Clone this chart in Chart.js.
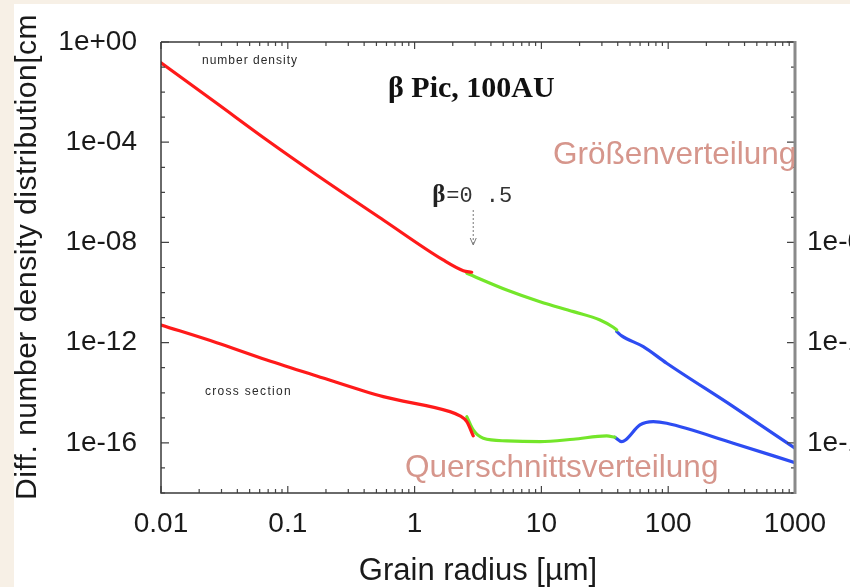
<!DOCTYPE html>
<html><head><meta charset="utf-8">
<script src="https://cdn.jsdelivr.net/npm/chart.js@4.4.0/dist/chart.umd.min.js"></script>
<style>
html,body{margin:0;padding:0;overflow:hidden;background:#f7f0e6;}
#wrap{position:relative;width:900px;height:587px;}
</style></head><body>
<div id="wrap"><canvas id="c"></canvas></div>
<script>
// ---- axis ticks ----
const xTickValues = [0.01, 0.1, 1, 10, 100, 1000];
const xTickLabels = ['0.01', '0.1', '1', '10', '100', '1000'];
const yTickValues = [1, 1e-4, 1e-8, 1e-12, 1e-16];
const yTickLabels = ['1e+00', '1e-04', '1e-08', '1e-12', '1e-16'];
const yRightTickValues = [1e-8, 1e-12, 1e-16];
const yRightTickLabels = ['1e-08', '1e-12', '1e-16'];

// ---- number density (size distribution) ----
const ndRedR   = [0.01, 0.0275, 0.0683, 0.169, 0.566, 1.68, 2.42, 2.82];
const ndRedN   = [1.49e-1, 3.58e-3, 1.23e-4, 4.93e-6, 7.89e-8, 2.0e-9, 7.48e-10, 6.46e-10];
const ndGreenR = [2.58, 5.33, 9.75, 17.9, 29.0, 36.9, 39.3];
const ndGreenN = [5.9e-10, 1.27e-10, 4.33e-11, 1.73e-11, 8.07e-12, 4.12e-12, 3.22e-12];
const ndBlueR  = [39.3, 43.0, 63.6, 97.3, 326, 1000];
const ndBlueN  = [2.75e-12, 1.86e-12, 6.94e-13, 1.51e-13, 2.8e-15, 6.12e-17];

// ---- cross section ----
const csRedR   = [0.01, 0.0275, 0.0683, 0.169, 0.566, 1.90, 2.28, 2.58, 2.90];
const csRedN   = [5.09e-12, 1.0e-12, 2.04e-13, 4.7e-14, 7.0e-15, 1.77e-15, 1.19e-15, 7.05e-16, 1.9e-16];
const csGreenR = [2.58, 2.90, 3.48, 5.33, 9.75, 17.9, 32.7, 38.0];
const csGreenN = [1.12e-15, 3.29e-16, 1.53e-16, 1.2e-16, 1.12e-16, 1.4e-16, 1.9e-16, 1.68e-16];
const csBlueR  = [38.0, 43.0, 46.0, 59.9, 76.3, 97.3, 326, 1000];
const csBlueN  = [1.68e-16, 1.12e-16, 1.3e-16, 5.2e-16, 7.05e-16, 6.08e-16, 9.7e-17, 1.63e-17];

const betaRadius = 2.9;

const RED = '#ff1a1a', GREEN = '#74e62a', BLUE = '#2d4cf2';
const pts = (r, v) => r.map((x, i) => ({x: x, y: v[i]}));
const ds = (r, v, c) => ({data: pts(r, v), borderColor: c, backgroundColor: c, borderWidth: 3.2,
  pointRadius: 0, fill: false, cubicInterpolationMode: 'monotone', borderCapStyle: 'round', borderJoinStyle: 'round'});

const SANS = '"Liberation Sans", Arial, sans-serif';

const bgPlugin = {
  id: 'bg',
  beforeDraw(chart) {
    const ctx = chart.ctx;
    ctx.save();
    ctx.fillStyle = '#f7f0e6';
    ctx.fillRect(0, 0, chart.width, chart.height);
    ctx.fillStyle = '#ffffff';
    ctx.fillRect(14, 4, chart.width - 14, chart.height - 4);
    ctx.restore();
  }
};

const framePlugin = {
  id: 'frame',
  afterDraw(chart) {
    const ctx = chart.ctx, a = chart.chartArea;
    const xs = chart.scales.x, ys = chart.scales.y;
    ctx.save();
    // ticks (inward)
    ctx.strokeStyle = '#444';
    ctx.lineWidth = 1.2;
    ctx.beginPath();
    for (let d = -2; d <= 3; d++) {
      for (let m = 1; m <= 9; m++) {
        const v = m * Math.pow(10, d);
        if (v > 1000 * 1.0001) continue;
        const px = xs.getPixelForValue(v);
        const len = m === 1 ? 7 : 4;
        ctx.moveTo(px, a.bottom); ctx.lineTo(px, a.bottom - len);
        ctx.moveTo(px, a.top); ctx.lineTo(px, a.top + len);
      }
    }
    for (let d = -18; d <= 0; d++) {
      const v = Math.pow(10, d);
      const py = ys.getPixelForValue(v);
      const len = (d % 4 === 0) ? 8 : 4;
      ctx.moveTo(a.left, py); ctx.lineTo(a.left + len, py);
      ctx.moveTo(a.right, py); ctx.lineTo(a.right - len, py);
    }
    ctx.stroke();
    // frame
    ctx.lineWidth = 1.5;
    ctx.strokeStyle = '#3a3a3a';
    ctx.beginPath();
    ctx.moveTo(a.left, a.top); ctx.lineTo(a.left, a.bottom); ctx.lineTo(a.right, a.bottom);
    ctx.moveTo(a.left, a.top); ctx.lineTo(a.right, a.top);
    ctx.stroke();
    ctx.lineWidth = 3;
    ctx.strokeStyle = '#8a8a8a';
    ctx.beginPath();
    ctx.moveTo(a.right, a.top - 1); ctx.lineTo(a.right, a.bottom + 1);
    ctx.stroke();

    // y axis title
    ctx.fillStyle = '#1a1a1a';
    ctx.font = '30px ' + SANS;
    ctx.letterSpacing = '0.5px';
    ctx.translate(36, 500);
    ctx.rotate(-Math.PI / 2);
    ctx.textAlign = 'left';
    ctx.textBaseline = 'alphabetic';
    ctx.fillText('Diff. number density distribution[cm', 0, 0);
    ctx.restore();

    // annotations
    ctx.save();
    ctx.textAlign = 'left';
    ctx.textBaseline = 'middle';
    ctx.fillStyle = '#2a2a2a';
    ctx.font = '12px ' + SANS;
    ctx.letterSpacing = '1px';
    ctx.fillText('number density', 202, 61);
    ctx.letterSpacing = '1.3px';
    ctx.fillText('cross section', 205, 392);
    ctx.letterSpacing = '0px';

    ctx.textBaseline = 'alphabetic';
    ctx.fillStyle = '#111';
    ctx.font = 'bold 30px "Liberation Serif", "Times New Roman", serif';
    ctx.fillText('\u03B2 Pic, 100AU', 388, 97);

    // beta = 0.5 label
    const bx = xs.getPixelForValue(betaRadius);
    ctx.font = 'bold 25px "Liberation Serif", serif';
    ctx.fillStyle = '#222';
    ctx.fillText('\u03B2', bx - 41, 202);
    ctx.font = '22px "Liberation Mono", "DejaVu Sans Mono", monospace';
    ctx.fillStyle = '#333';
    ctx.fillText('=0 .5', bx - 27, 202);
    // dotted arrow
    ctx.strokeStyle = '#777';
    ctx.lineWidth = 1;
    ctx.setLineDash([2, 2]);
    ctx.beginPath();
    ctx.moveTo(bx, 210); ctx.lineTo(bx, 244);
    ctx.stroke();
    ctx.setLineDash([]);
    ctx.beginPath();
    ctx.moveTo(bx - 3, 238); ctx.lineTo(bx, 245); ctx.lineTo(bx + 3, 238);
    ctx.stroke();

    // overlay German labels
    ctx.fillStyle = '#d6968c';
    ctx.font = '31.5px ' + SANS;
    ctx.fillText('Gr\u00F6\u00DFenverteilung', 553, 164);
    ctx.fillText('Querschnittsverteilung', 405, 477);
    ctx.restore();
  }
};

new Chart(document.getElementById('c'), {
  type: 'line',
  data: {
    datasets: [
      ds(ndRedR, ndRedN, RED), ds(ndGreenR, ndGreenN, GREEN), ds(ndBlueR, ndBlueN, BLUE),
      ds(csRedR, csRedN, RED), ds(csGreenR, csGreenN, GREEN), ds(csBlueR, csBlueN, BLUE)
    ]
  },
  options: {
    responsive: true,
    maintainAspectRatio: false,
    animation: false,
    layout: {padding: {left: 0, right: 0, top: 42, bottom: 0}},
    plugins: {legend: {display: false}, tooltip: {enabled: false}},
    scales: {
      x: {
        type: 'logarithmic', position: 'bottom', min: 0.01, max: 1000,
        grid: {display: false, drawTicks: false}, border: {display: false},
        afterBuildTicks: s => { s.ticks = xTickValues.map(v => ({value: v})); },
        afterFit: s => { s.height = 94; },
        ticks: {autoSkip: false, maxRotation: 0, padding: 14, color: '#1a1a1a',
          font: {size: 28, family: SANS},
          callback: (v, i) => xTickLabels[i]},
        title: {display: true, text: 'Grain radius [\u00B5m]', color: '#1a1a1a',
          font: {size: 31, family: SANS, lineHeight: 1}, padding: {top: 0, bottom: 0}}
      },
      y: {
        type: 'logarithmic', position: 'left', min: 1e-18, max: 1,
        grid: {display: false, drawTicks: false}, border: {display: false},
        afterBuildTicks: s => { s.ticks = yTickValues.map(v => ({value: v})); },
        afterFit: s => { s.width = 161; },
        ticks: {autoSkip: false, padding: 24, color: '#1a1a1a',
          font: {size: 28, family: SANS},
          callback: (v, i) => yTickLabels[i]}
      },
      y2: {
        type: 'logarithmic', position: 'right', min: 1e-18, max: 1,
        grid: {display: false, drawTicks: false}, border: {display: false},
        afterBuildTicks: s => { s.ticks = yRightTickValues.map(v => ({value: v})); },
        afterFit: s => { s.width = 105; },
        ticks: {autoSkip: false, padding: 12, color: '#1a1a1a',
          font: {size: 28, family: SANS},
          callback: (v, i) => yRightTickLabels[i]}
      }
    }
  },
  plugins: [bgPlugin, framePlugin]
});
</script>
</body></html>
